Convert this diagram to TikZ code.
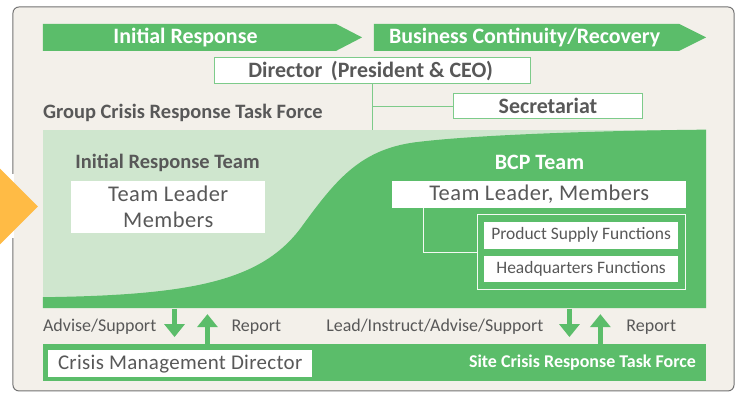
\documentclass[tikz,border=0pt]{standalone}
\usepackage{fontspec}
\setmainfont{Carlito}
\usetikzlibrary{positioning,arrows.meta}
\definecolor{bandgreen}{RGB}{91,189,106}
\definecolor{palegreen}{RGB}{207,230,206}
\definecolor{framegreen}{RGB}{125,203,138}
\definecolor{paper}{RGB}{243,240,234}
\definecolor{ink}{RGB}{88,88,88}
\definecolor{warnorange}{RGB}{255,187,69}

\begin{document}
\begin{tikzpicture}[x=1pt, y=-1pt,
      phasetext/.style={text=white, inner sep=0pt, font=\bfseries\fontsize{22}{24}\selectfont}, % white bold on green
      head/.style={text=ink, inner sep=0pt, font=\bfseries\fontsize{20.5}{23}\selectfont},     % group titles
      whitebox/.style={fill=white, inner sep=0pt, text=ink, align=center,
                       font=\fontsize{22.5}{26}\selectfont\addfontfeature{LetterSpace=2}},     % plain white box
      linebox/.style={whitebox, draw=framegreen, line width=1.2,
                      font=\bfseries\fontsize{22}{24}\selectfont},                             % head office boxes
      fnbox/.style={whitebox, font=\fontsize{17.5}{20}\selectfont},                             % function boxes
      tag/.style={text=ink, inner sep=0pt, font=\fontsize{18}{20}\selectfont},                  % arrow labels
      tie/.style={draw=framegreen, line width=1.2},                                             % org chart line
      flow/.style={draw=bandgreen, line width=5, -{Triangle[width=20pt,length=13pt]}}]          % up/down arrows
    % page and frame
    \fill[white] (0,0) rectangle (736,394);
    \draw[rounded corners=6pt, draw=black!55, fill=paper, line width=1] (11,7) rectangle (734,392);
    \draw[white, line width=3] (11,174) -- (11,239);
    \fill[warnorange] (-2,169) -- (36,207) -- (-2,245) -- cycle;
    % phases
    \fill[bandgreen] (41,24) -- (335,24) -- (361,37.5) -- (335,51) -- (41,51) -- cycle;
    \fill[bandgreen] (373,24) -- (679,24) -- (706,37.5) -- (679,51) -- (373,51) -- cycle;
    \node[phasetext] (initresp) at (184,37.5) {Initial Response};
    \node[phasetext] (bizcont) at (524,37.5) {Business Continuity/Recovery};
    % head office
    \node[linebox, minimum width=317, minimum height=26] (dir) at (371.5,71) {Director~\,(President \& CEO)\,};
    \node[linebox, minimum width=189, minimum height=25] (sec) at (547.5,106.5) {Secretariat};
    \node[head, anchor=west] (gcrtf) at (41,113) {Group Crisis Response Task Force};
    % task force area, initial response fading into BCP
    \node[fill=palegreen, inner sep=0pt, minimum width=665, minimum height=179, anchor=north west] (grp) at (41,130) {};
    \fill[bandgreen] (41,298) .. controls (190,296) and (260,282) .. (300,228)
                     .. controls (335,180) and (360,148) .. (420,142)
                     .. controls (480,135) and (600,131) .. (706,130) -- (706,309) -- (41,309) -- cycle;
    \coordinate (gtop) at (371.5,130);
    \draw[tie] (dir.south) -- (gtop);
    \draw[tie] (sec.west) -- (sec.west -| dir.south);
    % initial response team
    \node[head] (irt) at (166,163) {Initial Response Team};
    \node[whitebox, minimum width=195, minimum height=52, anchor=north west] (irtmem) at (69,181) {Team Leader\\Members};
    % BCP team
    \node[head, text=white, font=\bfseries\fontsize{22}{24}\selectfont] (bcp) at (539,163) {BCP Team};
    \node[whitebox, minimum width=295, minimum height=27, anchor=north west] (bcpmem) at (391,181) {Team Leader, Members};
    \node[draw=white!75!palegreen, line width=1, inner sep=0pt, minimum width=209, minimum height=75,
          anchor=north west] (fnframe) at (476,215) {};
    \node[fnbox, minimum width=195, minimum height=27, anchor=north west] (supply) at (483,222) {Product Supply Functions};
    \node[fnbox, minimum width=195, minimum height=27, anchor=north west] (hq) at (483,256) {Headquarters Functions};
    \draw[draw=white!75!palegreen, line width=1] ([xshift=32]bcpmem.south west) |- (fnframe.west);
    % sites
    \node[fill=bandgreen, inner sep=0pt, minimum width=665, minimum height=37, anchor=north west] (site) at (41,345) {};
    \node[whitebox, minimum width=265, minimum height=27, anchor=north west,
          font=\fontsize{21}{24}\selectfont\addfontfeature{LetterSpace=1.5}] (cmd) at (46,351) {Crisis Management Director};
    \node[phasetext, anchor=east, font=\bfseries\fontsize{18}{20}\selectfont] (sitelab) at (696,364) {Site Crisis Response Task Force};
    % instructions and reports
    \coordinate (advtip) at (173,338);
    \coordinate (reptip) at (206,315);
    \coordinate (leadtip) at (569,338);
    \coordinate (rep2tip) at (600,315);
    \draw[flow] (advtip |- grp.south) -- (advtip);
    \draw[flow] (reptip |- site.north) -- (reptip);
    \draw[flow] (leadtip |- grp.south) -- (leadtip);
    \draw[flow] (rep2tip |- site.north) -- (rep2tip);
    \node[tag, anchor=west] (advlab) at (41,328) {Advise/Support};
    \node[tag] (replab) at (255,328) {Report};
    \node[tag] (leadlab) at (434,328) {Lead/Instruct/Advise/Support};
    \node[tag] (rep2lab) at (651,328) {Report};
  \end{tikzpicture}
\end{document}
